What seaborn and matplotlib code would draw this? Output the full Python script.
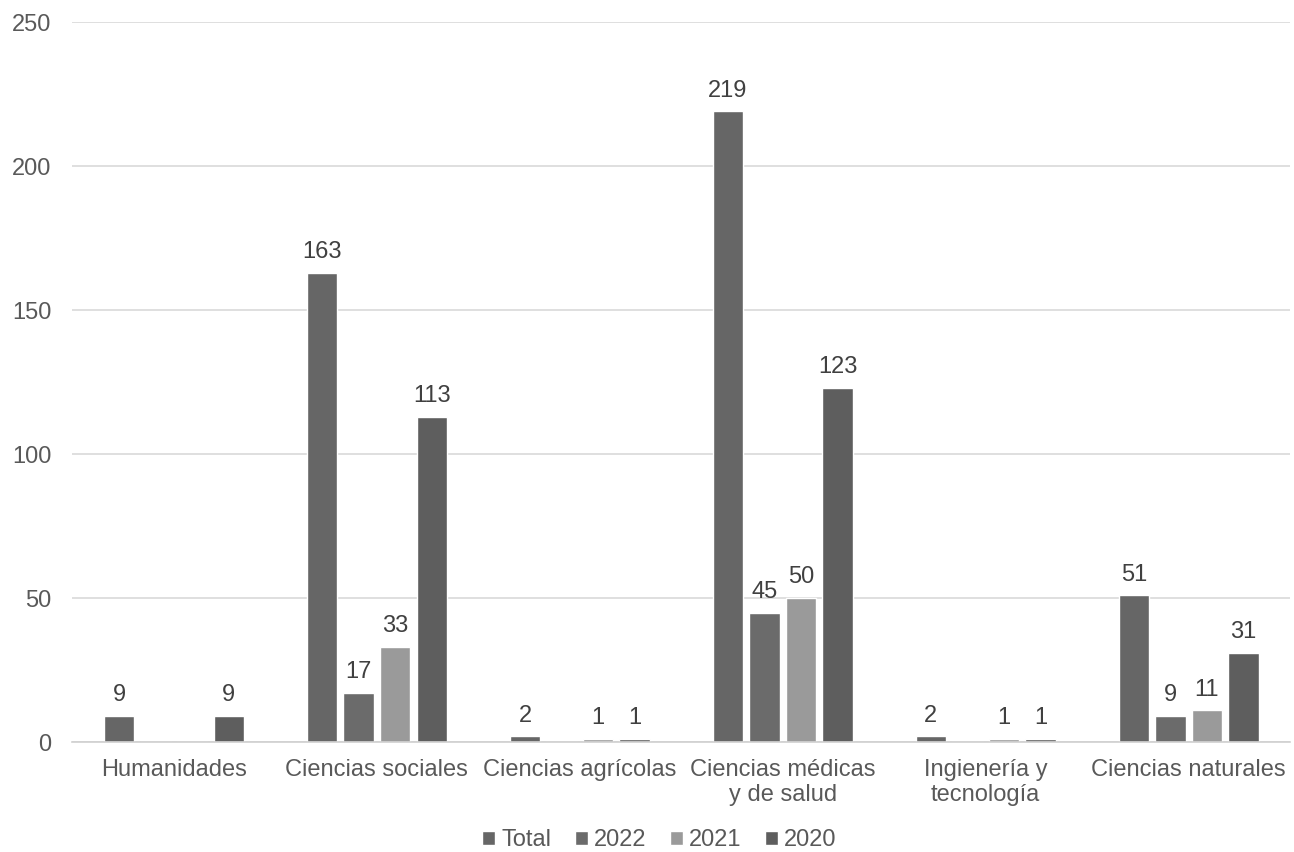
import matplotlib
matplotlib.use("Agg")
import matplotlib.pyplot as plt
import pandas as pd
import seaborn as sns

# --------------------------------------------------------------------------- #
# Data
# --------------------------------------------------------------------------- #
categories = [
    "Humanidades",
    "Ciencias sociales",
    "Ciencias agrícolas",
    "Ciencias médicas\ny de salud",
    "Ingienería y\ntecnología",
    "Ciencias naturales",
]
series = ["Total", "2022", "2021", "2020"]
total = [9, 163, 2, 219, 2, 51]
y2022 = [0, 17, 0, 45, 0, 9]
y2021 = [0, 33, 1, 50, 1, 11]
y2020 = [9, 113, 1, 123, 1, 31]
colors = ["#666666", "#6b6b6b", "#9a9a9a", "#5e5e5e"]
yticks = [0, 50, 100, 150, 200, 250]

df = pd.DataFrame({"Categoria": categories, "Total": total, "2022": y2022,
                   "2021": y2021, "2020": y2020})
long = df.melt(id_vars="Categoria", var_name="Serie", value_name="Valor")

# --------------------------------------------------------------------------- #
# Plot
# --------------------------------------------------------------------------- #
sns.set_theme(style="white")
plt.rcParams["font.family"] = ["Liberation Sans", "DejaVu Sans"]
text_color = "#595959"
fs = 17

fig, ax = plt.subplots(figsize=(12.94, 8.52), dpi=100)
fig.subplots_adjust(left=0.056, right=0.997, top=0.974, bottom=0.129)

sns.barplot(data=long, x="Categoria", y="Valor", hue="Serie",
            hue_order=series, palette=colors, width=0.72, gap=0.17,
            order=categories, ax=ax, legend=True)

for container in ax.containers:
    labels = [f"{v:g}" if v > 0 else "" for v in container.datavalues]
    ax.bar_label(container, labels=labels, padding=7, fontsize=fs,
                 color="#404040")

ax.set_ylim(0, 250)
ax.set_yticks(yticks)
ax.set_xlim(-0.5, len(categories) - 0.5)
ax.yaxis.grid(True, color="#d9d9d9", linewidth=1.2)
ax.set_axisbelow(True)
for side in ["left", "right", "top"]:
    ax.spines[side].set_visible(False)
ax.spines["bottom"].set_color("#d0d0d0")
ax.spines["bottom"].set_linewidth(1.2)
ax.tick_params(axis="both", length=0, labelsize=fs, colors=text_color)
ax.tick_params(axis="x", pad=12)
ax.tick_params(axis="y", pad=15)
ax.set_xlabel("")
ax.set_ylabel("")

ax.legend(loc="center", bbox_to_anchor=(0.482, -0.136), ncol=4,
          frameon=False, fontsize=fs, handlelength=0.55, handleheight=0.55,
          handletextpad=0.25, columnspacing=1.0, labelcolor=text_color,
          borderpad=0.2)

fig.savefig("out.png", dpi=100)
